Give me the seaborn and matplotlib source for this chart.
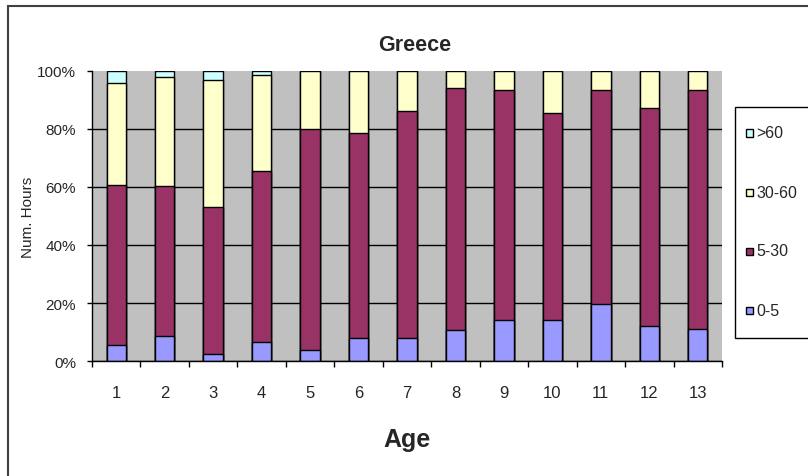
import numpy as np
import pandas as pd
import seaborn as sns
import matplotlib.pyplot as plt
from matplotlib.patches import Rectangle

sns.set_style("white")
plt.rcParams["font.family"] = ["Liberation Sans", "DejaVu Sans"]

# Share of each hour band per age (percent).
ages = [str(a) for a in range(1, 14)]
band_0_5 = [5.5, 8.5, 2.5, 6.6, 3.8, 8.0, 8.0, 10.8, 14.0, 14.0, 19.5, 12.0, 11.2]
band_5_30 = [55.2, 52.0, 50.7, 58.9, 76.2, 70.7, 78.1, 83.4, 79.6, 71.4, 74.0, 75.4, 82.3]
band_30_60 = [35.3, 37.3, 43.8, 33.1, 20.0, 21.3, 13.9, 5.8, 6.4, 14.6, 6.5, 12.6, 6.5]
band_60 = [4.0, 2.2, 3.0, 1.4, 0, 0, 0, 0, 0, 0, 0, 0, 0]

bands = ["0-5", "5-30", "30-60", ">60"]
colors = ["#9999FF", "#993366", "#FFFFCC", "#CCFFFF"]

# cumulative tops, one row per band
tops = np.cumsum([band_0_5, band_5_30, band_30_60, band_60], axis=0)

fig = plt.figure(figsize=(8.08, 4.77), dpi=100)
ax = fig.add_axes([92 / 808, 1 - 362 / 477, 630 / 808, 290 / 477])
ax.set_facecolor("#C0C0C0")

# draw tallest stack first, then the lower bands on top of it
for i in range(len(bands) - 1, -1, -1):
    sns.barplot(x=ages, y=tops[i], color=colors[i], width=0.4,
                edgecolor="black", linewidth=1, saturation=1,
                errorbar=None, ax=ax)

ax.set_xlim(-0.5, 12.5)
ax.set_ylim(0, 100)
ax.set_yticks(range(0, 101, 20))
ax.set_yticklabels([f"{v}%" for v in range(0, 101, 20)])
ax.set_xticks(np.arange(-0.5, 13, 1), minor=True)
ax.tick_params(axis="x", which="major", length=0, pad=17, labelsize=12,
               bottom=True)
ax.tick_params(axis="x", which="minor", length=4.5, width=1, color="black",
               direction="out", bottom=True)
ax.tick_params(axis="y", length=3.6, width=1, color="black", pad=8,
               direction="out", labelsize=11, left=True)
ax.set_xlabel("")
ax.set_ylabel("")

ax.set_axisbelow(True)
ax.yaxis.grid(True, color="black", linewidth=1)
ax.yaxis.get_gridlines()[-1].set_visible(False)
for side in ["top", "right"]:
    ax.spines[side].set_visible(False)
for side in ["left", "bottom"]:
    ax.spines[side].set_color("black")
    ax.spines[side].set_linewidth(1)

fig.text(415 / 808, 1 - 51 / 477, "Greece", ha="center", va="baseline",
         fontsize=15.5, fontweight="bold")
fig.text(407 / 808, 1 - 447 / 477, "Age", ha="center", va="baseline",
         fontsize=18, fontweight="bold")
fig.text(28 / 808, 1 - 217 / 477, "Num. Hours", ha="center", va="center",
         rotation=90, fontsize=11)

# chart border (runs off the right and bottom edge)
fig.add_artist(Rectangle((8 / 808, -0.2), 1.2, 1.2 - 7 / 477,
                         transform=fig.transFigure, fill=False,
                         edgecolor="#404040", linewidth=1.5))

# legend box, drawn by hand to match the original layout
fig.add_artist(Rectangle((735 / 808, 1 - 339 / 477), 0.2, 231 / 477,
                         transform=fig.transFigure, facecolor="white",
                         edgecolor="black", linewidth=1))
for k, i in enumerate(range(len(bands) - 1, -1, -1)):
    yc = 134 + k * 59
    fig.add_artist(Rectangle((746 / 808, 1 - (yc + 3.5) / 477), 7 / 808, 7 / 477,
                             transform=fig.transFigure, facecolor=colors[i],
                             edgecolor="black", linewidth=1))
    fig.text(756 / 808, 1 - yc / 477, bands[i], ha="left", va="center",
             fontsize=11.5)

fig.savefig("out.png", dpi=100)
